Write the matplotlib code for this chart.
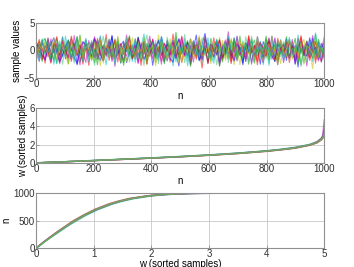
import numpy as np
import matplotlib
matplotlib.use("Agg")
import matplotlib.pyplot as plt

plt.rcParams['font.family'] = ['Liberation Sans', 'DejaVu Sans']
plt.rcParams['font.size'] = 7

# raw sample traces (top panel), one list per trace
s1 = [0.3, -1.2, 1.8, -0.4, 0.9, -2.1, 1.1, 0.2, -0.8, 2.4, -1.5, 0.6, -0.1, 1.4, -2.6, 0.8, -0.3, 1.9, -1.1, 0.5,
      2.2, -0.7, -1.8, 1.0, 0.1, -0.5, 2.7, -1.4, 0.4, -2.2, 1.3, -0.2, 0.7, -1.6, 2.0, -0.9, 0.0, 1.6, -2.4, 0.9,
      -0.6, 1.2, -1.3, 2.5, -0.1, -1.9, 0.8, 1.5, -0.4, -2.8, 1.7, 0.3, -1.0, 2.1, -0.7, 0.6, -1.7, 1.1, 3.1, -0.3,
      -1.2, 0.4, 1.9, -2.0, 0.2, -0.8, 1.4, -1.5, 2.3, -0.6, 0.5, -2.3, 1.0, -0.2, 1.8, -1.1, 0.7, -2.5, 1.6, 0.1,
      -0.9, 2.6, -1.4, 0.3, -0.5, 1.2, -1.8, 2.0, -0.4, 0.9, -3.0, 1.3, -0.1, 0.6, -1.3, 2.2, -0.7, 1.5, -2.1, 0.4]
s2 = [-0.8, 1.5, -2.0, 0.6, 1.1, -0.3, -1.7, 2.3, 0.2, -1.0, 0.9, -2.4, 1.6, 0.0, -0.6, 2.8, -1.3, 0.4, -0.2, 1.3,
      -2.2, 0.7, 1.9, -0.9, -0.1, 1.0, -1.6, 2.1, -0.5, 0.3, -2.7, 1.4, 0.8, -1.1, 0.2, 2.4, -1.9, -0.4, 1.2, -0.7,
      0.5, -1.4, 2.0, -0.3, -2.1, 1.7, 0.1, -0.8, 3.3, -1.2, 0.6, -0.2, 1.5, -2.5, 0.9, -0.6, 1.8, -1.0, 0.3, -1.8,
      2.2, -0.4, 0.7, -2.9, 1.1, 0.4, -1.5, 1.9, -0.1, -0.9, 2.6, -1.7, 0.5, 1.0, -0.5, -2.3, 1.4, 0.2, -1.2, 2.1,
      -0.3, 0.8, -2.0, 1.6, -0.7, 0.0, 2.5, -1.4, 0.6, -1.1, 1.2, -2.6, 0.3, 1.7, -0.8, 0.9, -1.6, 2.0, -0.2, 0.5]
s3 = [1.2, -0.5, 0.4, -2.3, 1.9, -1.0, 0.7, 2.5, -1.6, 0.1, -0.9, 1.4, -2.0, 0.6, 2.1, -0.2, -1.4, 0.9, -2.7, 1.0,
      0.3, -1.1, 1.7, -0.6, 2.9, -1.8, 0.5, -0.3, 1.2, -2.2, 0.8, 1.5, -0.9, 0.0, -1.5, 2.2, -0.4, 1.1, -2.5, 0.6,
      1.8, -0.7, -0.1, 2.0, -1.3, 0.4, -2.1, 1.3, 0.2, -0.8, 2.6, -1.0, 0.7, -1.9, 1.6, -0.5, 0.1, -3.2, 1.0, 0.5,
      -1.2, 2.3, -0.6, 0.9, -1.7, 1.4, -0.2, -2.4, 1.9, 0.3, -0.9, 1.1, -1.5, 2.7, -0.4, 0.6, -2.0, 1.5, -0.1, -1.1,
      2.1, -0.7, 0.4, -2.6, 1.2, 0.8, -1.3, 1.8, -0.3, -1.9, 0.7, 2.4, -1.0, 0.2, -0.6, 1.6, -2.3, 0.9, 0.1, -1.4]
s4 = [-1.5, 0.8, 2.0, -0.7, -0.2, 1.6, -2.5, 0.4, 1.1, -1.2, 2.6, -0.3, 0.5, -1.8, 1.3, -0.9, 0.2, 2.2, -2.1, 0.7,
      -0.4, 1.8, -1.0, 0.1, -2.6, 1.5, 0.9, -0.6, 2.4, -1.4, 0.3, -0.1, 1.0, -2.0, 1.7, -0.8, 0.6, 3.0, -1.6, -0.3,
      1.2, -2.2, 0.4, 1.9, -0.5, -1.1, 0.8, -2.8, 1.4, 0.0, -0.7, 2.1, -1.3, 0.5, 1.6, -0.2, -1.9, 0.9, -0.6, 2.3,
      -1.5, 0.3, 1.1, -2.4, 0.7, -0.3, 1.8, -1.1, 0.2, 2.5, -0.9, -1.6, 1.3, 0.6, -2.2, 1.0, -0.4, 1.7, -1.2, 0.4,
      -2.7, 1.5, 0.1, -0.8, 2.0, -1.4, 0.7, -0.1, 1.2, -1.8, 2.8, -0.6, 0.3, -1.0, 1.9, -2.0, 0.5, 1.1, -0.5, -1.3]
s5 = [0.6, -2.0, 1.3, 0.1, -1.1, 2.1, -0.5, 0.9, -2.4, 1.5, -0.2, 0.4, -1.6, 2.7, -0.8, 1.0, -0.3, -2.2, 1.8, 0.2,
      -1.3, 0.7, 2.4, -1.7, 0.5, -0.6, 1.6, -2.9, 0.8, 1.2, -0.4, -1.0, 2.0, -0.1, 0.9, -2.3, 1.4, -0.7, 0.3, 2.6,
      -1.5, 0.6, -0.2, 1.1, -2.0, 1.9, -0.9, 0.0, -1.4, 2.2, 0.4, -0.8, 1.5, -2.6, 0.7, 1.0, -0.3, -1.7, 2.5, -0.5,
      0.2, -1.2, 1.7, -2.1, 0.8, -0.4, 3.4, -1.0, 0.3, -1.9, 1.2, 0.6, -0.7, 2.0, -2.5, 0.9, -0.1, 1.4, -1.1, 0.5,
      2.3, -1.6, 0.1, -0.9, 1.8, -2.2, 0.6, 1.3, -0.5, -1.4, 2.1, -0.2, 0.8, -2.8, 1.0, -0.6, 1.6, -1.2, 0.3, 2.2]
s6 = [-0.2, 1.7, -1.4, 0.5, 2.2, -0.9, -0.3, 1.0, -2.2, 0.8, 1.6, -1.1, 0.2, -0.7, 2.5, -1.9, 0.6, 1.2, -0.4, -1.5,
      2.0, 0.3, -2.8, 1.1, -0.6, 0.7, -1.2, 1.9, -0.1, -2.0, 1.4, 0.4, -0.8, 2.3, -1.6, 0.9, -0.2, 1.5, -2.5, 0.6,
      0.0, -1.0, 2.8, -0.7, 0.5, -1.8, 1.3, 0.2, -0.5, -2.3, 1.8, -1.2, 0.7, 2.1, -0.4, -1.4, 0.9, -0.1, 1.6, -2.1,
      0.4, 1.1, -0.9, 2.4, -1.7, 0.3, -0.6, 1.2, -2.6, 0.8, 1.9, -1.3, 0.1, -0.5, 2.2, -2.0, 0.6, 1.0, -0.8, 0.3,
      -1.6, 2.6, -0.3, 0.5, -2.4, 1.3, -1.0, 0.2, 1.7, -0.6, -1.8, 0.9, 2.0, -1.1, 0.4, -3.3, 1.5, -0.2, 0.7, -0.9]
s7 = [0.9, -0.6, -1.8, 2.0, 0.3, -1.3, 1.5, -0.2, 0.6, -2.5, 1.2, 0.0, 2.3, -1.0, -0.4, 0.8, -2.1, 1.7, 0.4, -0.9,
      1.4, -1.6, 0.2, 2.6, -0.7, -1.2, 0.9, -0.3, 1.9, -2.4, 0.5, 1.1, -0.8, -0.1, 2.2, -1.5, 0.7, -2.7, 1.3, 0.3,
      -0.5, 1.8, -1.1, 0.6, -2.0, 2.4, -0.2, 0.8, -1.4, 1.0, -0.6, 2.9, -1.9, 0.4, 0.1, -1.0, 1.6, -2.3, 0.7, 1.3,
      -0.4, -1.7, 2.1, 0.2, -0.9, 1.5, -2.2, 0.5, 1.8, -0.7, 0.0, -1.3, 2.5, -0.5, 0.9, -2.0, 1.1, -0.3, 0.6, -1.5,
      2.0, -0.8, 1.2, -2.6, 0.3, 1.6, -1.1, 0.8, -0.2, -1.7, 2.3, -0.4, 0.5, -2.1, 1.4, 0.2, -0.9, 1.0, -1.4, 2.7]
s8 = [1.4, 0.6, -0.9, -1.7, 0.2, 1.1, 2.3, -0.5, -2.0, -0.8, 0.7, 1.9, 0.4, -1.3, -2.4, 0.1, 1.6, 0.9, -0.2, -1.1,
      2.1, 1.2, -0.6, -1.9, 0.5, 0.0, 2.6, -1.4, -0.7, 1.0, 1.7, -2.2, -0.3, 0.8, -1.0, 2.4, 0.3, -1.6, -0.4, 1.3,
      -2.7, 0.6, 1.8, -0.9, 0.2, 1.1, -1.5, -2.1, 0.9, 2.0, -0.1, -0.7, 1.5, -1.2, 0.4, 2.8, -1.8, -0.5, 0.7, -2.3,
      1.2, 0.3, -0.8, 1.9, -1.4, 0.0, 2.2, -0.6, -1.9, 1.0, 0.5, -2.6, 1.4, -0.3, 0.8, -1.1, 2.5, 0.1, -1.7, 0.6,
      1.6, -0.9, -2.0, 1.1, 0.4, -0.4, 2.0, -1.3, 0.9, -2.5, 0.2, 1.7, -0.7, -1.0, 2.3, -0.2, 0.6, -1.6, 1.3, 0.0]
s9 = [-1.0, 0.4, 1.6, 2.2, -0.3, -1.5, 0.8, -2.3, 1.1, 0.1, -0.6, 1.9, -1.2, 0.6, 2.5, -2.0, -0.4, 0.9, 1.3, -1.7,
      0.2, -2.6, 1.0, 0.5, -0.8, 2.1, -1.1, 0.3, 1.7, -0.5, -2.2, 0.7, 2.7, -1.4, -0.1, 1.2, -0.9, 0.6, -1.8, 2.0,
      0.4, -1.3, -0.2, 1.5, -2.4, 1.0, 0.8, -0.6, 2.3, -1.6, -0.3, 0.5, 1.8, -2.9, 0.2, 1.1, -0.7, -1.2, 2.4, 0.0,
      -1.9, 0.9, 1.4, -0.4, -2.1, 1.6, 0.3, -0.8, 2.0, -1.5, 0.6, -0.2, 1.2, -2.5, 0.7, 1.9, -1.0, 0.1, -0.6, 2.6,
      -1.7, 0.4, 1.0, -2.0, 0.8, -0.3, 1.5, -1.3, 0.2, 2.2, -2.3, 0.5, -0.9, 1.7, -0.1, -1.4, 2.9, -0.7, 0.3, -1.1]
s10 = [0.2, 2.0, -1.6, 0.9, -0.4, -2.3, 1.4, 0.6, -1.0, 1.8, -0.2, -1.4, 2.6, 0.3, -0.9, 1.1, -2.5, 0.7, 0.0, 1.5,
       -1.2, 2.2, -0.6, -1.8, 0.9, 0.4, -0.3, 1.9, -2.1, 1.2, -0.7, 0.5, 2.4, -1.5, -0.1, 0.8, -2.7, 1.6, 0.2, -1.1,
       2.0, -0.5, 0.7, -1.9, 1.3, 0.1, -0.8, 3.0, -1.3, 0.6, -2.2, 1.0, 0.3, -0.4, 1.7, -1.6, 2.3, -0.9, 0.5, -2.4,
       1.1, -0.2, 0.8, 1.9, -1.2, -0.6, 2.1, -2.0, 0.4, 1.4, -0.7, 0.0, -1.5, 2.5, -0.3, 0.9, -2.6, 1.2, 0.6, -1.0,
       1.8, -0.4, -1.7, 2.2, 0.1, -0.9, 1.5, -2.2, 0.7, 0.3, -1.3, 2.7, -0.5, 1.0, -1.8, 0.2, 1.6, -0.8, -2.0, 1.1]
s11 = [-0.7, -1.9, 1.2, 0.3, 2.1, -1.0, 0.5, -2.4, 1.7, -0.2, 0.8, 1.3, -1.5, -0.6, 2.4, 0.1, -2.0, 1.0, -0.4, 1.8,
       -1.2, 0.6, 2.7, -1.7, 0.2, -0.9, 1.5, -2.5, 0.9, 0.4, -0.3, 2.0, -1.1, 1.1, -2.2, 0.7, -0.5, 2.3, -1.4, 0.0,
       1.6, -0.8, -1.8, 2.5, 0.5, -1.3, 0.3, 1.9, -2.1, 0.8, -0.1, 1.3, -2.8, 1.0, 0.6, -0.7, 2.2, -1.6, 0.4, 1.4,
       -0.9, -2.3, 1.8, -0.2, 0.7, -1.4, 2.6, 0.2, -1.1, 0.9, -0.5, 1.7, -2.0, 0.5, 2.0, -1.5, -0.3, 1.1, -2.6, 0.8,
       0.3, -1.0, 2.1, -0.6, 1.2, -1.9, 0.0, 2.4, -1.3, 0.6, -0.4, 1.5, -2.3, 1.0, -0.8, 0.4, 3.2, -1.2, 0.7, -1.6]
s12 = [1.6, -0.3, 0.5, -1.8, 2.3, -0.8, -0.2, 1.3, -2.2, 0.9, 0.0, -1.3, 2.0, 0.6, -0.5, -2.6, 1.5, 1.0, -0.9, 0.3,
       2.5, -1.6, -0.1, 0.7, -1.1, 1.9, -2.0, 0.4, 1.2, -0.6, -1.7, 2.8, 0.2, -0.4, 1.0, -2.3, 0.8, 1.6, -1.2, -0.2,
       2.1, -0.9, 0.6, -2.5, 1.3, 0.1, -0.7, 1.8, -1.4, 0.5, 2.4, -1.0, -0.3, 0.9, -2.1, 1.5, 0.3, -1.6, 2.2, -0.5,
       0.7, -1.2, 1.1, -2.7, 0.4, 1.9, -0.6, 0.0, -1.5, 2.6, -0.8, 0.6, -2.0, 1.4, 0.2, -1.0, 1.7, -0.4, -2.2, 1.2,
       0.8, -0.7, 2.3, -1.8, 0.3, 1.0, -0.1, -1.4, 2.0, -2.4, 0.9, 0.5, -0.9, 1.6, -1.1, 2.7, -0.3, -1.9, 0.6, 1.3]
s13 = [-2.1, 0.9, 0.2, 1.5, -1.0, -0.4, 2.2, -1.7, 0.6, 1.1, -0.8, -2.5, 1.8, 0.0, -0.6, 2.4, -1.2, 0.7, 0.3, -1.9,
       1.4, -0.3, 2.0, -2.3, 0.8, -0.1, 1.2, -1.4, 2.6, -0.7, 0.4, -2.0, 1.7, 0.5, -1.1, 0.9, -0.2, 2.3, -1.6, 0.1,
       1.0, -2.8, 0.6, 1.6, -0.5, -1.3, 2.1, -0.9, 0.3, 1.4, -2.2, 0.7, -0.4, 1.9, -1.5, 0.2, 2.7, -1.0, -0.6, 0.8,
       -2.4, 1.3, 0.5, -0.3, 1.8, -1.8, 0.0, 2.2, -1.1, 0.6, -2.6, 1.5, 0.9, -0.7, 1.1, -1.4, 2.5, -0.2, -1.9, 0.7,
       1.2, -0.8, 0.4, -2.1, 1.9, -0.5, 0.1, 2.0, -1.6, 0.6, -1.0, 1.4, -2.5, 0.8, 0.3, -0.6, 2.3, -1.3, 0.5, -0.1]
s14 = [0.5, -1.4, 2.1, -0.6, 0.3, 1.4, -2.0, 0.8, -0.3, 2.5, -1.1, -0.5, 1.0, -2.3, 1.6, 0.2, -0.8, 1.9, -1.5, 0.4,
       -2.7, 1.2, 0.7, -0.2, 2.2, -1.3, 0.1, -1.9, 1.5, 0.6, -0.7, 2.4, -2.1, 0.9, -0.4, 1.1, -1.6, 0.3, 2.8, -1.0,
       -0.1, 0.8, -2.4, 1.7, 0.4, -0.9, 1.3, -1.7, 2.0, -0.3, 0.6, -2.2, 1.0, -0.5, 1.8, 0.2, -1.2, 2.3, -0.8, -1.5,
       0.9, 1.4, -2.6, 0.5, -0.2, 1.6, -1.0, 0.7, 2.1, -1.8, 0.0, -0.6, 1.2, -2.0, 2.6, -0.4, 0.8, -1.3, 0.3, 1.7,
       -2.3, 0.6, -0.7, 1.9, -1.1, 0.1, 2.2, -1.6, 0.4, -0.3, 1.3, -2.9, 1.0, 0.5, -0.9, 1.5, -1.4, 2.0, -0.2, 0.7]
traces = [s1, s2, s3, s4, s5, s6, s7, s8, s9, s10, s11, s12, s13, s14]

# sorted |samples|: rank n and value w per trace (middle and bottom panels)
n_rank = [1, 50, 100, 200, 300, 400, 500, 600, 700, 800, 850, 900, 950, 975, 990, 995, 1000]
w1 = [0.0, 0.06, 0.12, 0.25, 0.38, 0.52, 0.67, 0.84, 1.03, 1.28, 1.44, 1.64, 1.95, 2.22, 2.55, 2.75, 3.3]
w2 = [0.0, 0.07, 0.13, 0.26, 0.40, 0.54, 0.69, 0.86, 1.06, 1.31, 1.47, 1.68, 1.99, 2.28, 2.62, 2.85, 3.5]
w3 = [0.0, 0.06, 0.12, 0.24, 0.37, 0.51, 0.65, 0.82, 1.01, 1.25, 1.41, 1.60, 1.92, 2.18, 2.50, 2.68, 3.0]
w4 = [0.0, 0.07, 0.13, 0.27, 0.41, 0.55, 0.71, 0.88, 1.08, 1.33, 1.50, 1.71, 2.03, 2.32, 2.68, 2.95, 3.7]
w5 = [0.0, 0.06, 0.12, 0.25, 0.39, 0.53, 0.68, 0.85, 1.05, 1.30, 1.46, 1.66, 1.98, 2.30, 2.70, 3.05, 4.7]
w6 = [0.0, 0.06, 0.13, 0.26, 0.39, 0.53, 0.68, 0.85, 1.04, 1.29, 1.45, 1.65, 1.97, 2.25, 2.58, 2.80, 3.2]
w7 = [0.0, 0.07, 0.12, 0.25, 0.38, 0.52, 0.66, 0.83, 1.02, 1.27, 1.43, 1.62, 1.94, 2.20, 2.52, 2.72, 3.1]
sorted_w = [w1, w2, w3, w4, w5, w6, w7]

colors = ['#0000ff', '#00a000', '#ff0000', '#00c0c0', '#c000c0', '#c0c000', '#40c080']

fig = plt.figure(figsize=(3.54, 2.67), dpi=100)
ax1 = fig.add_axes([0.102, 0.708, 0.814, 0.206])
ax2 = fig.add_axes([0.102, 0.390, 0.814, 0.206])
ax3 = fig.add_axes([0.102, 0.071, 0.814, 0.206])

for i, vals in enumerate(traces):
    x = np.linspace(1, 1000, len(vals))
    ax1.plot(x, vals, color=colors[i % len(colors)], lw=0.8, alpha=0.55)
for w, c in zip(sorted_w, colors):
    ax2.plot(n_rank, w, color=c, lw=1.0, alpha=0.6)
    ax3.plot(w, n_rank, color=c, lw=1.0, alpha=0.6)

ax1.set_xlim(0, 1000)
ax1.set_ylim(-5, 5)
ax1.set_yticks([-5, 0, 5])
ax1.set_xticks([0, 200, 400, 600, 800, 1000])
ax1.set_xlabel('n', labelpad=1)
ax1.set_ylabel('sample values', labelpad=1)

ax2.set_xlim(0, 1000)
ax2.set_ylim(0, 6)
ax2.set_yticks([0, 2, 4, 6])
ax2.set_xticks([0, 200, 400, 600, 800, 1000])
ax2.set_xlabel('n', labelpad=1)
ax2.set_ylabel('w (sorted samples)', labelpad=1)
ax2.grid(True, color='#c8c8c8', lw=0.6)

ax3.set_xlim(0, 5)
ax3.set_ylim(0, 1000)
ax3.set_yticks([0, 500, 1000])
ax3.set_xticks([0, 1, 2, 3, 4, 5])
ax3.set_xlabel('w (sorted samples)', labelpad=0)
ax3.set_ylabel('n', labelpad=1)
ax3.grid(True, color='#c8c8c8', lw=0.6)

for ax in (ax1, ax2, ax3):
    for sp in ax.spines.values():
        sp.set_color('#909090')
        sp.set_linewidth(0.8)
    ax.tick_params(direction='in', length=2, width=0.6, color='#909090', pad=1, labelcolor='#303030')
    ax.set_axisbelow(True)

fig.savefig('out.png', dpi=100)
